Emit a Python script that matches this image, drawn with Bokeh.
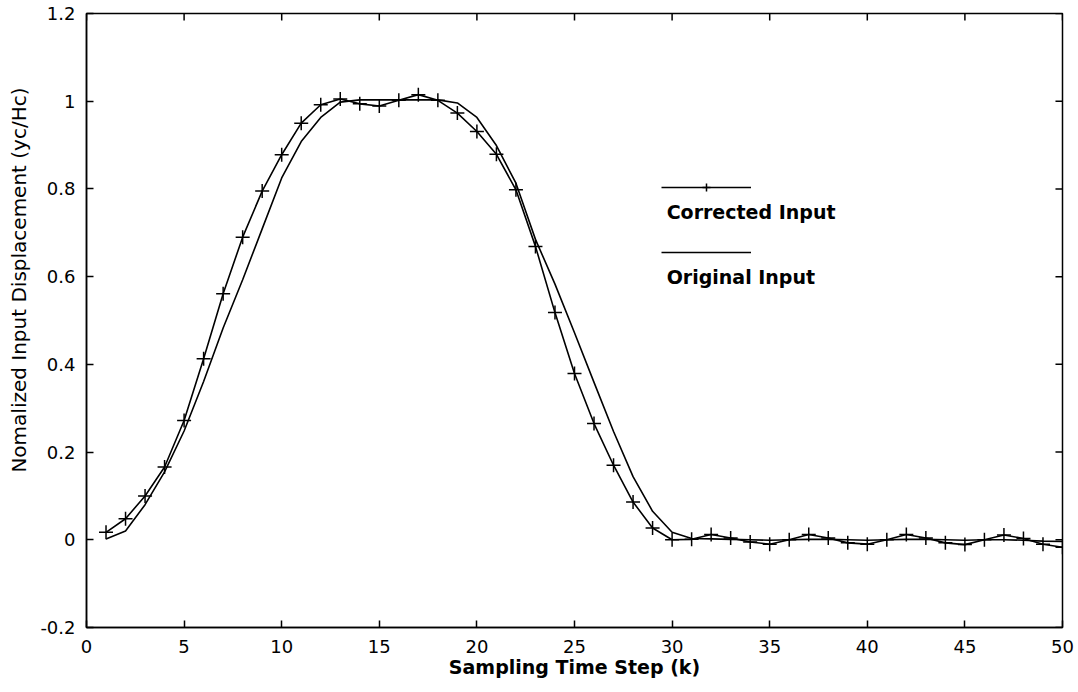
import math
from bokeh.plotting import figure
from bokeh.models import (Range1d, Legend, LegendItem, Label, Title,
                          ColumnDataSource, FixedTicker)
from bokeh.embed import file_html
from bokeh.resources import INLINE

# ---------------- data ----------------
k = list(range(1, 51))
corrected = [0.017, 0.048, 0.100, 0.166, 0.272, 0.413, 0.561, 0.690, 0.795, 0.878,
             0.950, 0.992, 1.005, 0.994, 0.989, 1.002, 1.015, 1.002, 0.973, 0.931,
             0.879, 0.798, 0.669, 0.518, 0.379, 0.265, 0.170, 0.086, 0.027, 0.000,
             0.001, 0.012, 0.004, -0.005, -0.010, 0.000, 0.012, 0.004, -0.007, -0.010,
             0.000, 0.012, 0.004, -0.007, -0.011, 0.000, 0.011, 0.003, -0.010, -0.017]
original = [0.002, 0.020, 0.080, 0.155, 0.248, 0.361, 0.483, 0.593, 0.709, 0.825,
            0.908, 0.963, 0.998, 1.003, 1.003, 1.003, 1.003, 1.003, 0.996, 0.963,
            0.899, 0.813, 0.685, 0.583, 0.472, 0.359, 0.247, 0.144, 0.065, 0.017,
            0.003, 0.002, 0.001, 0.000, -0.001, 0.000, 0.001, 0.001, 0.000, -0.001,
            0.000, 0.001, 0.001, 0.000, -0.001, 0.000, 0.000, -0.001, -0.003, -0.004]

x_ticks = [0, 5, 10, 15, 20, 25, 30, 35, 40, 45, 50]
y_ticks = [-0.2, 0, 0.2, 0.4, 0.6, 0.8, 1, 1.2]
y_tick_labels = ["-0.2", "0", "0.2", "0.4", "0.6", "0.8", "1", "1.2"]

x_label = "Sampling Time Step (k)"
y_label = "Nomalized Input Displacement (yc/Hc)"
series_names = ["Corrected Input", "Original Input"]

X_MIN, X_MAX = 0, 50
Y_MIN, Y_MAX = -0.2, 1.2

# style: length of the inward box ticks (about 7 px) in each direction
TICK_X = 0.36
TICK_Y = 0.016

FONT = "DejaVu Sans"

src = ColumnDataSource(dict(k=k, corrected=corrected, original=original))
top_ticks = ColumnDataSource(dict(x=x_ticks, y0=[Y_MAX] * len(x_ticks),
                                  y1=[Y_MAX - TICK_Y] * len(x_ticks)))
right_ticks = ColumnDataSource(dict(y=y_ticks, x0=[X_MAX] * len(y_ticks),
                                    x1=[X_MAX - TICK_X] * len(y_ticks)))

p = figure(width=1076, height=690, x_range=Range1d(X_MIN, X_MAX),
           y_range=Range1d(Y_MIN, Y_MAX),
           output_backend="svg", toolbar_location=None,
           min_border_left=86, min_border_right=14, min_border_top=13,
           min_border_bottom=63)
p.background_fill_color = "white"
p.border_fill_color = "white"
p.outline_line_color = "black"
p.outline_line_width = 1.5
p.xgrid.visible = False
p.ygrid.visible = False

def style_axis(ax, ticks):
    ax.ticker = FixedTicker(ticks=ticks)
    ax.minor_tick_line_color = None
    ax.major_tick_in = 7
    ax.major_tick_out = 0
    ax.major_tick_line_width = 1.5
    ax.major_tick_line_color = "black"
    ax.axis_line_color = "black"
    ax.axis_line_width = 1.5
    ax.major_label_text_font = FONT
    ax.major_label_text_font_size = "18px"
    ax.major_label_text_color = "black"
    ax.axis_label_text_color = "black"
    ax.axis_label_text_font = FONT

xa = p.xaxis[0]
style_axis(xa, x_ticks)
xa.major_label_standoff = 12
xa.axis_label = x_label
xa.axis_label_text_font_style = "bold"
xa.axis_label_text_font_size = "19px"
xa.axis_label_standoff = 0

ya = p.yaxis[0]
style_axis(ya, y_ticks)
ya.major_label_overrides = {t: s for t, s in zip(y_ticks, y_tick_labels)}
ya.major_label_standoff = 11

# y title as a side title, so it can sit a little above the middle of the box
p.add_layout(Title(text=y_label, align="right", offset=74, vertical_align="top",
                   standoff=10, text_font=FONT, text_font_size="20px",
                   text_font_style="normal", text_color="black"), "left")

lc = p.line("k", "corrected", source=src, line_color="black", line_width=1.6)
sc = p.scatter("k", "corrected", source=src, marker="cross", size=14,
               line_color="black", line_width=1.5)
lo = p.line("k", "original", source=src, line_color="black", line_width=1.6)

# inward tick marks on the top and right edges of the box
p.segment(x0="x", y0="y0", x1="x", y1="y1", source=top_ticks,
          line_color="black", line_width=1.5)
p.segment(x0="x0", y0="y", x1="x1", y1="y", source=right_ticks,
          line_color="black", line_width=1.5)

legend = Legend(items=[LegendItem(label=" ", renderers=[lc, sc]),
                       LegendItem(label=" ", renderers=[lo])],
                location=(575, 365), glyph_width=90, glyph_height=20, spacing=45,
                padding=0, margin=0, border_line_color=None, background_fill_alpha=0,
                label_text_font_size="1px", label_standoff=0)
p.add_layout(legend)

for name, yv in zip(series_names, [0.748, 0.600]):
    p.add_layout(Label(x=29.72, y=yv, text=name, text_font=FONT, text_font_style="bold",
                       text_font_size="19px", text_color="black",
                       text_baseline="alphabetic"))

open("out.html", "w").write(file_html(p, INLINE))
